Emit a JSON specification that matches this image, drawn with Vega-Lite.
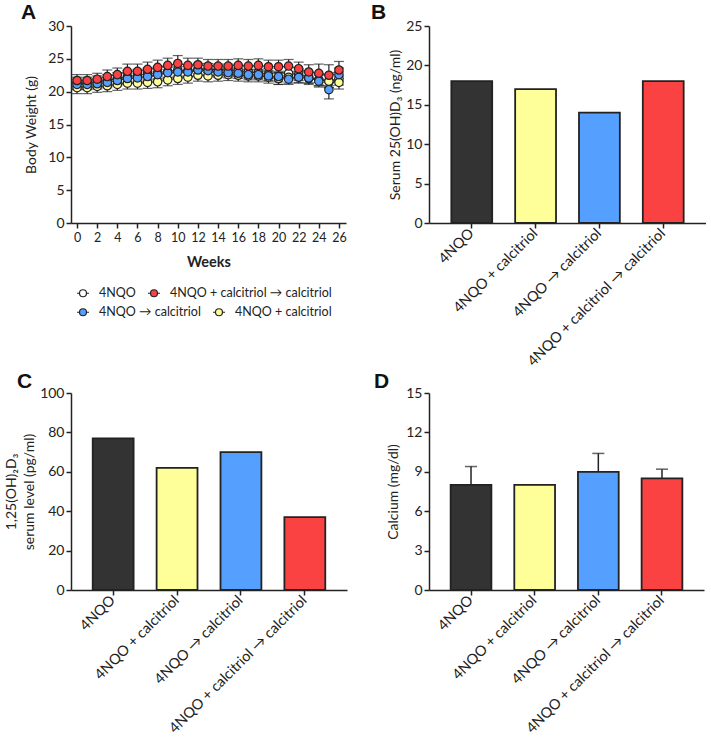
{
  "$schema": "https://vega.github.io/schema/vega-lite/v6.json",
  "padding": {"left": 4, "top": 2, "right": 0, "bottom": 0},
  "background": "white",
  "config": {
    "font": "Lato",
    "view": {"stroke": null},
    "axis": {"domainColor": "#222", "domainWidth": 1.5, "tickColor": "#222", "tickWidth": 1.5, "tickSize": 5, "labelFont": "Lato", "labelFontSize": 14, "labelColor": "#222", "labelPadding": 2, "labelOverlap": false, "titleFont": "Lato", "titleFontSize": 14, "titleFontWeight": "normal", "titleColor": "#222", "grid": false},
    "title": {"font": "Liberation Sans", "fontSize": 21, "fontWeight": "bold", "anchor": "start", "frame": "group", "baseline": "alphabetic", "offset": 0, "color": "#111"},
    "legend": {"labelFont": "Lato", "labelFontSize": 12.5, "labelColor": "#222", "labelLimit": 400, "padding": 0, "labelOffset": 9, "columnPadding": 9, "symbolSize": 144, "symbolStrokeColor": "#222", "symbolStrokeWidth": 1.2, "symbolType": "M-1,0H-0.58M0.58,0H1M0.58,0A0.58,0.58,0,1,1,-0.58,0A0.58,0.58,0,1,1,0.58,0Z"}
  },
  "datasets": {
    "wt": [
      {"g":"4NQO","w":0,"m":21.3,"e":0.9},{"g":"4NQO","w":1,"m":21.3,"e":0.9},{"g":"4NQO","w":2,"m":21.5,"e":0.9},{"g":"4NQO","w":3,"m":21.7,"e":0.9},{"g":"4NQO","w":4,"m":22.0,"e":0.9},{"g":"4NQO","w":5,"m":22.3,"e":0.9},{"g":"4NQO","w":6,"m":22.5,"e":0.9},{"g":"4NQO","w":7,"m":22.7,"e":0.9},{"g":"4NQO","w":8,"m":22.9,"e":0.9},{"g":"4NQO","w":9,"m":23.1,"e":0.9},{"g":"4NQO","w":10,"m":23.3,"e":0.9},{"g":"4NQO","w":11,"m":23.2,"e":0.9},{"g":"4NQO","w":12,"m":23.4,"e":0.9},{"g":"4NQO","w":13,"m":23.4,"e":0.9},{"g":"4NQO","w":14,"m":23.3,"e":0.9},{"g":"4NQO","w":15,"m":23.3,"e":0.9},{"g":"4NQO","w":16,"m":23.2,"e":0.9},{"g":"4NQO","w":17,"m":23.0,"e":0.9},{"g":"4NQO","w":18,"m":22.9,"e":0.9},{"g":"4NQO","w":19,"m":22.6,"e":0.9},{"g":"4NQO","w":20,"m":22.0,"e":0.9},{"g":"4NQO","w":21,"m":22.8,"e":0.9},{"g":"4NQO","w":22,"m":22.6,"e":0.9},{"g":"4NQO","w":23,"m":22.2,"e":0.9},{"g":"4NQO","w":24,"m":21.8,"e":0.9},{"g":"4NQO","w":25,"m":21.6,"e":1.0},{"g":"4NQO","w":26,"m":22.0,"e":1.0},
      {"g":"4NQO + calcitriol","w":0,"m":20.6,"e":0.9},{"g":"4NQO + calcitriol","w":1,"m":20.6,"e":0.9},{"g":"4NQO + calcitriol","w":2,"m":20.8,"e":0.9},{"g":"4NQO + calcitriol","w":3,"m":20.9,"e":0.9},{"g":"4NQO + calcitriol","w":4,"m":21.1,"e":0.9},{"g":"4NQO + calcitriol","w":5,"m":21.3,"e":0.9},{"g":"4NQO + calcitriol","w":6,"m":21.3,"e":0.9},{"g":"4NQO + calcitriol","w":7,"m":21.4,"e":0.9},{"g":"4NQO + calcitriol","w":8,"m":21.5,"e":0.9},{"g":"4NQO + calcitriol","w":9,"m":21.8,"e":0.9},{"g":"4NQO + calcitriol","w":10,"m":22.0,"e":0.9},{"g":"4NQO + calcitriol","w":11,"m":22.2,"e":0.9},{"g":"4NQO + calcitriol","w":12,"m":22.5,"e":0.9},{"g":"4NQO + calcitriol","w":13,"m":22.4,"e":0.9},{"g":"4NQO + calcitriol","w":14,"m":22.5,"e":0.9},{"g":"4NQO + calcitriol","w":15,"m":22.6,"e":0.9},{"g":"4NQO + calcitriol","w":16,"m":22.5,"e":0.9},{"g":"4NQO + calcitriol","w":17,"m":22.4,"e":0.9},{"g":"4NQO + calcitriol","w":18,"m":22.4,"e":0.9},{"g":"4NQO + calcitriol","w":19,"m":22.2,"e":0.9},{"g":"4NQO + calcitriol","w":20,"m":22.0,"e":0.9},{"g":"4NQO + calcitriol","w":21,"m":22.2,"e":0.9},{"g":"4NQO + calcitriol","w":22,"m":22.2,"e":0.9},{"g":"4NQO + calcitriol","w":23,"m":22.0,"e":0.9},{"g":"4NQO + calcitriol","w":24,"m":21.8,"e":0.9},{"g":"4NQO + calcitriol","w":25,"m":21.6,"e":1.0},{"g":"4NQO + calcitriol","w":26,"m":21.4,"e":1.0},
      {"g":"4NQO → calcitriol","w":0,"m":21.1,"e":0.8},{"g":"4NQO → calcitriol","w":1,"m":21.1,"e":0.8},{"g":"4NQO → calcitriol","w":2,"m":21.2,"e":0.8},{"g":"4NQO → calcitriol","w":3,"m":21.4,"e":0.8},{"g":"4NQO → calcitriol","w":4,"m":21.7,"e":0.8},{"g":"4NQO → calcitriol","w":5,"m":22.0,"e":0.8},{"g":"4NQO → calcitriol","w":6,"m":22.1,"e":0.8},{"g":"4NQO → calcitriol","w":7,"m":22.3,"e":0.8},{"g":"4NQO → calcitriol","w":8,"m":22.6,"e":0.8},{"g":"4NQO → calcitriol","w":9,"m":22.9,"e":0.8},{"g":"4NQO → calcitriol","w":10,"m":23.0,"e":0.8},{"g":"4NQO → calcitriol","w":11,"m":23.0,"e":0.8},{"g":"4NQO → calcitriol","w":12,"m":23.3,"e":0.8},{"g":"4NQO → calcitriol","w":13,"m":23.2,"e":0.8},{"g":"4NQO → calcitriol","w":14,"m":23.0,"e":0.8},{"g":"4NQO → calcitriol","w":15,"m":22.9,"e":0.8},{"g":"4NQO → calcitriol","w":16,"m":22.8,"e":0.8},{"g":"4NQO → calcitriol","w":17,"m":22.6,"e":0.8},{"g":"4NQO → calcitriol","w":18,"m":22.6,"e":0.8},{"g":"4NQO → calcitriol","w":19,"m":22.4,"e":0.8},{"g":"4NQO → calcitriol","w":20,"m":22.3,"e":0.8},{"g":"4NQO → calcitriol","w":21,"m":21.9,"e":0.8},{"g":"4NQO → calcitriol","w":22,"m":22.2,"e":0.8},{"g":"4NQO → calcitriol","w":23,"m":22.1,"e":0.8},{"g":"4NQO → calcitriol","w":24,"m":21.6,"e":0.9},{"g":"4NQO → calcitriol","w":25,"m":20.3,"e":1.4},{"g":"4NQO → calcitriol","w":26,"m":22.6,"e":1.0},
      {"g":"4NQO + calcitriol → calcitriol","w":0,"m":21.7,"e":0.9},{"g":"4NQO + calcitriol → calcitriol","w":1,"m":21.7,"e":0.9},{"g":"4NQO + calcitriol → calcitriol","w":2,"m":21.9,"e":0.9},{"g":"4NQO + calcitriol → calcitriol","w":3,"m":22.3,"e":1.0},{"g":"4NQO + calcitriol → calcitriol","w":4,"m":22.6,"e":1.0},{"g":"4NQO + calcitriol → calcitriol","w":5,"m":23.1,"e":1.1},{"g":"4NQO + calcitriol → calcitriol","w":6,"m":23.1,"e":1.1},{"g":"4NQO + calcitriol → calcitriol","w":7,"m":23.4,"e":1.1},{"g":"4NQO + calcitriol → calcitriol","w":8,"m":23.7,"e":1.1},{"g":"4NQO + calcitriol → calcitriol","w":9,"m":24.0,"e":1.1},{"g":"4NQO + calcitriol → calcitriol","w":10,"m":24.3,"e":1.2},{"g":"4NQO + calcitriol → calcitriol","w":11,"m":24.0,"e":1.1},{"g":"4NQO + calcitriol → calcitriol","w":12,"m":24.1,"e":1.0},{"g":"4NQO + calcitriol → calcitriol","w":13,"m":23.9,"e":1.0},{"g":"4NQO + calcitriol → calcitriol","w":14,"m":23.9,"e":1.0},{"g":"4NQO + calcitriol → calcitriol","w":15,"m":23.9,"e":1.0},{"g":"4NQO + calcitriol → calcitriol","w":16,"m":24.0,"e":1.0},{"g":"4NQO + calcitriol → calcitriol","w":17,"m":23.9,"e":1.0},{"g":"4NQO + calcitriol → calcitriol","w":18,"m":24.0,"e":1.0},{"g":"4NQO + calcitriol → calcitriol","w":19,"m":23.8,"e":1.0},{"g":"4NQO + calcitriol → calcitriol","w":20,"m":23.8,"e":1.0},{"g":"4NQO + calcitriol → calcitriol","w":21,"m":23.9,"e":1.0},{"g":"4NQO + calcitriol → calcitriol","w":22,"m":23.5,"e":1.0},{"g":"4NQO + calcitriol → calcitriol","w":23,"m":23.0,"e":1.1},{"g":"4NQO + calcitriol → calcitriol","w":24,"m":22.8,"e":1.4},{"g":"4NQO + calcitriol → calcitriol","w":25,"m":22.5,"e":1.6},{"g":"4NQO + calcitriol → calcitriol","w":26,"m":23.3,"e":1.3}
    ]
  },
  "columns": 2,
  "spacing": {"row": 170, "column": 82},
  "bounds": "flush",
  "resolve": {"scale": {"fill": "independent", "color": "independent"}},
  "concat": [
    {
      "width": 275, "height": 197,
      "title": {"text": "A", "dx": -50, "dy": 8},
      "data": {"name": "wt"},
      "encoding": {
        "x": {"field": "w", "type": "quantitative", "scale": {"domain": [-0.6, 26.7], "nice": false, "zero": false}, "axis": {"values": [0,2,4,6,8,10,12,14,16,18,20,22,24,26], "title": "Weeks", "titleFontWeight": "bold", "titleFontSize": 14.5, "titlePadding": 12, "labelFontSize": 12.5, "labelPadding": 3}},
        "y": {"field": "m", "type": "quantitative", "scale": {"domain": [0, 30]}, "axis": {"values": [0,5,10,15,20,25,30], "title": "Body Weight (g)", "titlePadding": 9}}
      },
      "layer": [
        {"mark": {"type": "errorbar", "color": "#222", "thickness": 1.2, "ticks": {"size": 10, "thickness": 1.2, "color": "#222"}}, "encoding": {"yError": {"field": "e"}}},
        {"mark": {"type": "line", "stroke": "#333", "strokeWidth": 1}, "encoding": {"detail": {"field": "g"}}},
        {"transform": [{"filter": "datum.g == '4NQO'"}], "mark": {"type": "point", "filled": true, "size": 70, "stroke": "#222", "strokeWidth": 1.2, "opacity": 1},
         "encoding": {"fill": {"field": "g", "type": "nominal", "scale": {"domain": ["4NQO", "4NQO + calcitriol → calcitriol"], "range": ["#FFFFFF", "#FA4242"]}, "legend": {"orient": "none", "legendX": 5, "legendY": 260, "direction": "horizontal", "title": null}}}},
        {"transform": [{"filter": "datum.g == '4NQO + calcitriol'"}], "mark": {"type": "point", "filled": true, "size": 70, "stroke": "#222", "strokeWidth": 1.2, "opacity": 1},
         "encoding": {"color": {"field": "g", "type": "nominal", "scale": {"domain": ["4NQO → calcitriol", "4NQO + calcitriol"], "range": ["#559FFF", "#FFFF99"]}, "legend": {"orient": "none", "legendX": 5, "legendY": 279, "direction": "horizontal", "title": null}}}},
        {"transform": [{"filter": "datum.g == '4NQO → calcitriol'"}], "mark": {"type": "point", "filled": true, "size": 70, "stroke": "#222", "strokeWidth": 1.2, "opacity": 1},
         "encoding": {"color": {"field": "g", "type": "nominal", "scale": {"domain": ["4NQO → calcitriol", "4NQO + calcitriol"], "range": ["#559FFF", "#FFFF99"]}, "legend": {"orient": "none", "legendX": 5, "legendY": 279, "direction": "horizontal", "title": null}}}},
        {"transform": [{"filter": "datum.g == '4NQO + calcitriol → calcitriol'"}], "mark": {"type": "point", "filled": true, "size": 70, "stroke": "#222", "strokeWidth": 1.2, "opacity": 1},
         "encoding": {"fill": {"field": "g", "type": "nominal", "scale": {"domain": ["4NQO", "4NQO + calcitriol → calcitriol"], "range": ["#FFFFFF", "#FA4242"]}, "legend": {"orient": "none", "legendX": 5, "legendY": 260, "direction": "horizontal", "title": null}}}}
      ]
    },
    {
      "width": 277, "height": 197,
      "title": {"text": "B", "dx": -58, "dy": 8},
      "data": {"values": [
        {"g": "4NQO", "v": 18},
        {"g": "4NQO + calcitriol", "v": 17},
        {"g": "4NQO → calcitriol", "v": 14},
        {"g": "4NQO + calcitriol → calcitriol", "v": 18}
      ]},
      "mark": {"type": "bar", "stroke": "#222", "strokeWidth": 1.8},
      "encoding": {
        "x": {"field": "g", "type": "nominal", "sort": null, "scale": {"paddingInner": 0.36, "paddingOuter": 0.35}, "axis": {"title": null, "labelAngle": -45, "labelAlign": "right", "labelBaseline": "middle", "labelPadding": 3, "labelLimit": 400, "labelFontSize": 14.5}},
        "y": {"field": "v", "type": "quantitative", "scale": {"domain": [0, 25]}, "axis": {"values": [0,5,10,15,20,25], "title": "Serum 25(OH)D₃ (ng/ml)", "titlePadding": 3}},
        "fill": {"field": "g", "type": "nominal", "scale": {"domain": ["4NQO", "4NQO + calcitriol", "4NQO → calcitriol", "4NQO + calcitriol → calcitriol"], "range": ["#333333", "#FFFF99", "#559FFF", "#FA4242"]}, "legend": null}
      }
    },
    {
      "width": 276, "height": 197,
      "title": {"text": "C", "dx": -54, "dy": 10},
      "data": {"values": [
        {"g": "4NQO", "v": 77},
        {"g": "4NQO + calcitriol", "v": 62},
        {"g": "4NQO → calcitriol", "v": 70},
        {"g": "4NQO + calcitriol → calcitriol", "v": 37}
      ]},
      "mark": {"type": "bar", "stroke": "#222", "strokeWidth": 1.8},
      "encoding": {
        "x": {"field": "g", "type": "nominal", "sort": null, "scale": {"paddingInner": 0.36, "paddingOuter": 0.34}, "axis": {"title": null, "labelAngle": -45, "labelAlign": "right", "labelBaseline": "middle", "labelPadding": 3, "labelLimit": 400, "labelFontSize": 14.5}},
        "y": {"field": "v", "type": "quantitative", "scale": {"domain": [0, 100]}, "axis": {"values": [0,20,40,60,80,100], "title": ["1,25(OH)₂D₃", "serum level (pg/ml)"], "titleLineHeight": 18, "titlePadding": 3}},
        "fill": {"field": "g", "type": "nominal", "scale": {"domain": ["4NQO", "4NQO + calcitriol", "4NQO → calcitriol", "4NQO + calcitriol → calcitriol"], "range": ["#333333", "#FFFF99", "#559FFF", "#FA4242"]}, "legend": null}
      }
    },
    {
      "width": 275, "height": 197,
      "title": {"text": "D", "dx": -55, "dy": 10},
      "data": {"values": [
        {"g": "4NQO", "v": 8.0, "up": 9.4},
        {"g": "4NQO + calcitriol", "v": 8.0, "up": null},
        {"g": "4NQO → calcitriol", "v": 9.0, "up": 10.4},
        {"g": "4NQO + calcitriol → calcitriol", "v": 8.5, "up": 9.2}
      ]},
      "encoding": {
        "x": {"field": "g", "type": "nominal", "sort": null, "scale": {"paddingInner": 0.36, "paddingOuter": 0.34}, "axis": {"title": null, "labelAngle": -45, "labelAlign": "right", "labelBaseline": "middle", "labelPadding": 3, "labelLimit": 400, "labelFontSize": 14.5}}
      },
      "layer": [
        {"mark": {"type": "rule", "stroke": "#222", "strokeWidth": 1.5}, "encoding": {"y": {"field": "v", "type": "quantitative", "scale": {"domain": [0, 15]}, "axis": {"values": [0,3,6,9,12,15], "title": "Calcium  (mg/dl)", "titlePadding": 5}}, "y2": {"field": "up"}}},
        {"mark": {"type": "tick", "color": "#222", "thickness": 1.5, "size": 12, "orient": "horizontal"}, "encoding": {"y": {"field": "up", "type": "quantitative", "scale": {"domain": [0, 15]}, "axis": {"values": [0,3,6,9,12,15], "title": "Calcium  (mg/dl)", "titlePadding": 5}}}},
        {"mark": {"type": "bar", "stroke": "#222", "strokeWidth": 1.8},
         "encoding": {
           "y": {"field": "v", "type": "quantitative", "scale": {"domain": [0, 15]}, "axis": {"values": [0,3,6,9,12,15], "title": "Calcium  (mg/dl)", "titlePadding": 5}},
           "fill": {"field": "g", "type": "nominal", "scale": {"domain": ["4NQO", "4NQO + calcitriol", "4NQO → calcitriol", "4NQO + calcitriol → calcitriol"], "range": ["#333333", "#FFFF99", "#559FFF", "#FA4242"]}, "legend": null}
         }}
      ]
    }
  ]
}
